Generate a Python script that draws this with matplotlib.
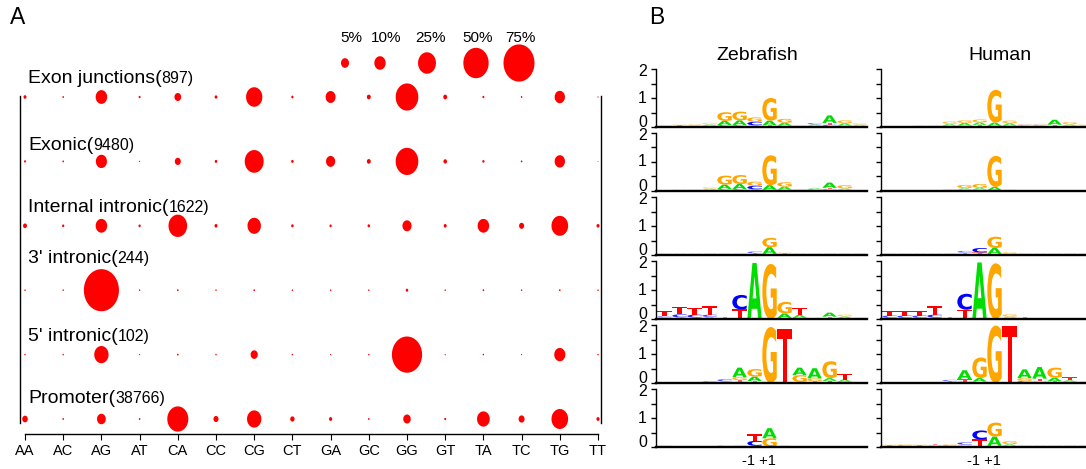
import numpy as np
import matplotlib
matplotlib.use("Agg")
import matplotlib.pyplot as plt
from matplotlib.path import Path
from matplotlib.patches import PathPatch
from matplotlib.textpath import TextPath
from matplotlib.font_manager import FontProperties
from matplotlib.transforms import Affine2D

plt.rcParams['font.family'] = ['Liberation Sans', 'DejaVu Sans']

W, H = 1086, 469

# ---------------- panel A data: % of sites per dinucleotide ----------------
dinucs = ['AA', 'AC', 'AG', 'AT', 'CA', 'CC', 'CG', 'CT',
          'GA', 'GC', 'GG', 'GT', 'TA', 'TC', 'TG', 'TT']
row_names = ["Exon junctions(", "Exonic(", "Internal intronic(",
             "3' intronic(", "5' intronic(", "Promoter("]
row_counts = [897, 9480, 1622, 244, 102, 38766]

exon_junctions = [0.7, 0.2, 10.3, 0.3, 3.5, 0.6, 20.7, 0.4, 7.7, 1.2, 40, 1.2, 0.3, 0.2, 8.3, 0.1]
exonic = [0.3, 0.2, 9.6, 0.1, 2.8, 0.5, 28, 0.5, 6.5, 1.2, 40, 1.0, 0.4, 0.2, 8.3, 0.05]
internal_intronic = [1.2, 0.4, 10.3, 0.4, 27, 0.7, 14, 0.5, 0.4, 0.5, 6.5, 0.7, 10.3, 2.0, 21.6, 0.7]
three_intronic = [0.15, 0.15, 96, 0.15, 0.2, 0.15, 0.2, 0.15, 0.15, 0.15, 0.5, 0.15, 0.2, 0.15, 0.2, 0.15]
five_intronic = [0.15, 0.15, 16, 0.1, 0.2, 0.15, 4, 0.15, 0.1, 0.15, 71, 0.1, 0.15, 0.1, 9.6, 0.15]
promoter = [2.4, 0.2, 6, 0.2, 34.5, 2, 16, 1.5, 0.8, 0.2, 4.4, 0.3, 12.6, 2.8, 21.6, 0.8]
rows_pct = [exon_junctions, exonic, internal_intronic, three_intronic, five_intronic, promoter]

legend_pct = [5, 10, 25, 50, 75]
legend_labels = ['5%', '10%', '25%', '50%', '75%']

# ---------------- panel B data: letter heights (bits), 14 positions ----------------
zf_exon_junctions = {
    'A': [.02, .02, .03, .04, .14, .16, .04, .16, .10, .02, .05, .26, .08, .04],
    'C': [.02, .02, .02, .03, .04, .04, .12, .03, .03, .02, .05, .05, .03, .02],
    'G': [.02, .03, .03, .05, .30, .30, .15, .78, .13, .02, .02, .03, .10, .05],
    'T': [.02, .02, .02, .02, .03, .03, .02, .03, .02, .02, .02, .06, .02, .02]}
zf_exonic = {
    'A': [.01, .01, .02, .04, .15, .17, .04, .15, .10, .02, .04, .18, .05, .01],
    'C': [.01, .01, .01, .02, .04, .04, .12, .03, .03, .02, .03, .04, .02, .01],
    'G': [.01, .02, .02, .05, .31, .31, .14, 1.03, .15, .02, .02, .02, .11, .01],
    'T': [.01, .01, .01, .02, .03, .03, .02, .02, .02, .02, .02, .05, .02, .01]}
zf_internal = {
    'A': [.02, .02, .02, .02, .02, .02, .02, .23, .02, .02, .02, .02, .02, .02],
    'C': [.02, .02, .02, .02, .02, .02, .06, .02, .02, .02, .02, .02, .02, .02],
    'G': [.02, .02, .02, .02, .02, .02, .02, .32, .03, .02, .02, .02, .02, .02],
    'T': [.02, .02, .02, .02, .02, .02, .02, .02, .02, .02, .02, .02, .02, .02]}
zf_three = {
    'A': [.02, .04, .03, .05, .01, .02, 1.93, 0, .15, .10, .01, .14, .06, .02],
    'C': [.05, .10, .10, .08, .01, .50, 0, 0, .02, .02, .01, .01, .01, .01],
    'G': [.03, .02, .02, .02, .01, .01, 0, 1.90, .40, .02, .01, .02, .06, .02],
    'T': [.17, .26, .23, .29, .03, .30, 0, 0, .02, .25, .01, .05, .02, .01]}
zf_five = {
    'A': [.01, .01, .01, .02, .03, .33, .15, 0, 0, .26, .35, .10, .08, .01],
    'C': [.01, .01, .01, .03, .07, .04, .02, 0, 0, .02, .02, .02, .02, .01],
    'G': [.01, .01, .01, .01, .02, .10, .26, 1.93, 0, .23, .10, .58, .02, .01],
    'T': [.01, .01, .01, .01, .01, .06, .05, 0, 1.87, .02, .04, .05, .20, .01]}
zf_promoter = {
    'A': [.02, .01, .01, .01, .01, .02, .02, .35, .02, .01, .01, .01, .01, .01],
    'C': [.01, .01, .01, .01, .02, .02, .17, .01, .01, .01, .01, .01, .01, .01],
    'G': [.02, .01, .01, .01, .01, .02, .02, .28, .01, .01, .01, .01, .01, .01],
    'T': [.01, .01, .01, .01, .01, .02, .23, .01, .01, .01, .01, .01, .01, .01]}

hs_exon_junctions = {
    'A': [.01, .01, .02, .02, .06, .09, .09, .11, .08, .03, .03, .17, .05, .03],
    'C': [.01, .01, .01, .01, .03, .03, .03, .02, .03, .03, .03, .02, .02, .01],
    'G': [.01, .01, .02, .02, .08, .09, .10, 1.13, .09, .03, .03, .02, .08, .04],
    'T': [.01, .01, .01, .01, .02, .02, .04, .02, .02, .02, .02, .04, .02, .01]}
hs_exonic = {
    'A': [.005, .005, .005, .005, .02, .05, .06, .11, .01, .005, .005, .005, .005, .005],
    'C': [.005, .005, .005, .005, .01, .03, .03, .01, .005, .005, .005, .005, .005, .005],
    'G': [.005, .005, .005, .005, .03, .11, .13, 1.07, .03, .005, .005, .005, .005, .005],
    'T': [.005, .005, .005, .005, .01, .02, .02, .02, .005, .005, .005, .005, .005, .005]}
hs_internal = {
    'A': [.02, .02, .02, .02, .02, .02, .03, .20, .02, .02, .02, .02, .02, .02],
    'C': [.02, .02, .02, .02, .02, .06, .15, .02, .01, .02, .02, .02, .02, .02],
    'G': [.02, .02, .02, .02, .02, .03, .02, .39, .06, .02, .02, .02, .02, .02],
    'T': [.02, .02, .02, .02, .02, .03, .04, .02, .01, .02, .02, .02, .02, .02]}
hs_three = {
    'A': [.02, .02, .02, .03, .01, .02, 1.95, 0, .04, .01, .01, .01, .01, .01],
    'C': [.08, .08, .08, .10, .01, .55, 0, 0, .02, .01, .01, .01, .01, .01],
    'G': [.02, .02, .02, .02, .01, .02, 0, 1.92, .08, .01, .01, .01, .01, .01],
    'T': [.17, .16, .16, .30, .03, .28, 0, 0, .02, .03, .01, .01, .01, .01]}
hs_five = {
    'A': [.01, .01, .01, .01, .02, .31, .12, 0, 0, .30, .40, .12, .06, .02],
    'C': [.01, .01, .01, .01, .05, .03, .02, 0, 0, .05, .02, .02, .02, .01],
    'G': [.01, .01, .01, .01, .02, .02, .71, 1.98, 0, .10, .05, .35, .02, .01],
    'T': [.01, .01, .01, .01, .02, .08, .03, 0, 1.98, .02, .08, .04, .10, .01]}
hs_promoter = {
    'A': [.02, .02, .02, .02, .02, .02, .02, .32, .06, .02, .02, .02, .02, .02],
    'C': [.02, .03, .02, .02, .03, .08, .31, .02, .02, .02, .02, .02, .02, .02],
    'G': [.03, .03, .03, .03, .03, .04, .02, .48, .10, .02, .02, .02, .02, .02],
    'T': [.02, .02, .02, .03, .02, .02, .22, .02, .02, .02, .02, .02, .02, .02]}

zebrafish_logos = [zf_exon_junctions, zf_exonic, zf_internal, zf_three, zf_five, zf_promoter]
human_logos = [hs_exon_junctions, hs_exonic, hs_internal, hs_three, hs_five, hs_promoter]

letter_colors = {'A': '#00dd00', 'C': '#0000ff', 'G': '#ffa500', 'T': '#ff0000'}

# ---------------- figure ----------------
fig = plt.figure(figsize=(W / 100, H / 100), dpi=100)


def px_axes(left, top, right, bottom):
    return fig.add_axes([left / W, 1 - bottom / H, (right - left) / W, (bottom - top) / H])


# ellipse marker (taller than wide)
t = np.linspace(0, 2 * np.pi, 80)
ellipse = Path(np.column_stack([np.cos(t) / 1.2, np.sin(t)]), closed=True)
SIZE_K = 9.57  # marker area per percent

# ---- panel A ----
ax = px_axes(20, 96, 601, 423)
ax.set_xlim(-5 / 38.2, 15 + 3 / 38.2)
ax.set_ylim(5 + 4 / 64.4, -1 / 64.4)
for r, pct in enumerate(rows_pct):
    ax.scatter(np.arange(16), [r] * 16, s=np.array(pct) * SIZE_K, marker=ellipse,
               color='#ff0000', linewidths=0, clip_on=False, zorder=3)

ax.spines['top'].set_visible(False)
for s in ['left', 'right']:
    ax.spines[s].set_linewidth(1.0)
ax.spines['bottom'].set_position(('outward', 8))
ax.spines['bottom'].set_bounds(0, 15)
ax.spines['bottom'].set_linewidth(1.0)
ax.set_yticks([])
ax.set_xticks(np.arange(16))
ax.set_xticklabels(dinucs, fontsize=10.5)
ax.tick_params(axis='x', direction='out', length=4.3, width=0.8, pad=3)

label_offsets = [14, 11, 14, 27, 14, 16]  # px above dot row (baseline)
fig.canvas.draw()
renderer = fig.canvas.get_renderer()
for r, (name, cnt) in enumerate(zip(row_names, row_counts)):
    ty = r - label_offsets[r] / 64.4
    t1 = ax.text(3 / 38.2, ty, name, fontsize=14, va='baseline', ha='left', clip_on=False)
    bb = t1.get_window_extent(renderer)
    yd = ax.transData.transform((0, ty))[1]
    fig.text(bb.x1 / W, yd / H, f"{cnt})", fontsize=11.5, va='baseline', ha='left')

# legend
leg_x = [345, 380, 427, 476, 519]
leg_tx = [351, 386, 431, 478, 520]
axl = px_axes(330, 25, 540, 90)
axl.set_xlim(330, 540)
axl.set_ylim(90, 25)
axl.axis('off')
axl.scatter(leg_x, [63] * 5, s=np.array(legend_pct) * SIZE_K, marker=ellipse,
            color='#ff0000', linewidths=0, clip_on=False)
for x, lab in zip(leg_tx, legend_labels):
    axl.text(x, 38, lab, fontsize=11, ha='center', va='center')

fig.text(10 / W, 1 - 18 / H, 'A', fontsize=16.5, ha='left', va='center')
fig.text(649 / W, 1 - 18 / H, 'B', fontsize=16.5, ha='left', va='center')

# ---- panel B ----
logo_font = FontProperties(family='DejaVu Sans', weight='bold')
glyphs = {b: TextPath((0, 0), b, size=1, prop=logo_font) for b in 'ACGT'}


def draw_logo(a, heights):
    for k in range(14):
        stack = sorted((heights[b][k], b) for b in 'ACGT')
        y0 = 0.0
        for h, b in stack:
            if h <= 0:
                continue
            tp = glyphs[b]
            e = tp.get_extents()
            tr = (Affine2D().translate(-e.x0, -e.y0)
                  .scale(0.96 / e.width, h / e.height)
                  .translate(k - 0.48, y0))
            a.add_patch(PathPatch(tr.transform_path(tp), fc=letter_colors[b], ec='none',
                                  alpha=min(1.0, 0.25 + 6 * h), clip_on=False))
            y0 += h


col_left = {'zf': 655.5, 'hs': 880.5}
ytick_pos = [0, 0.5, 1, 1.5, 2]
ylab_pos = {'2': 1.93, '1': 1.0, '0': 0.17}
for key, logos in [('zf', zebrafish_logos), ('hs', human_logos)]:
    left = col_left[key]
    for r, heights in enumerate(logos):
        base = 127 + 64 * r
        a = px_axes(left, base - 58, left + 212, base)
        a.set_xlim(-0.6, 13.53)
        a.set_ylim(0, 2)
        draw_logo(a, heights)
        a.spines['top'].set_visible(False)
        a.spines['right'].set_visible(False)
        a.spines['bottom'].set_linewidth(1.7)
        a.spines['left'].set_linewidth(1.0)
        a.set_yticks(ytick_pos)
        a.set_yticklabels([])
        a.tick_params(axis='y', direction='out', length=3.6, width=1.0)
        if key == 'zf':
            for lab, yv in ylab_pos.items():
                a.text(-8.5 / 212, yv, lab, fontsize=11.5, ha='right', va='center',
                       transform=a.get_yaxis_transform())
        if r == 5:
            a.set_xticks([6.3])
            a.set_xticklabels(['-1 +1'], fontsize=10.5)
            a.tick_params(axis='x', length=0, pad=5)
        else:
            a.set_xticks([])

fig.text(757 / W, 1 - 56 / H, 'Zebrafish', fontsize=14, ha='center', va='center')
fig.text(1000 / W, 1 - 56 / H, 'Human', fontsize=14, ha='center', va='center')

fig.savefig('out.png', dpi=100)
